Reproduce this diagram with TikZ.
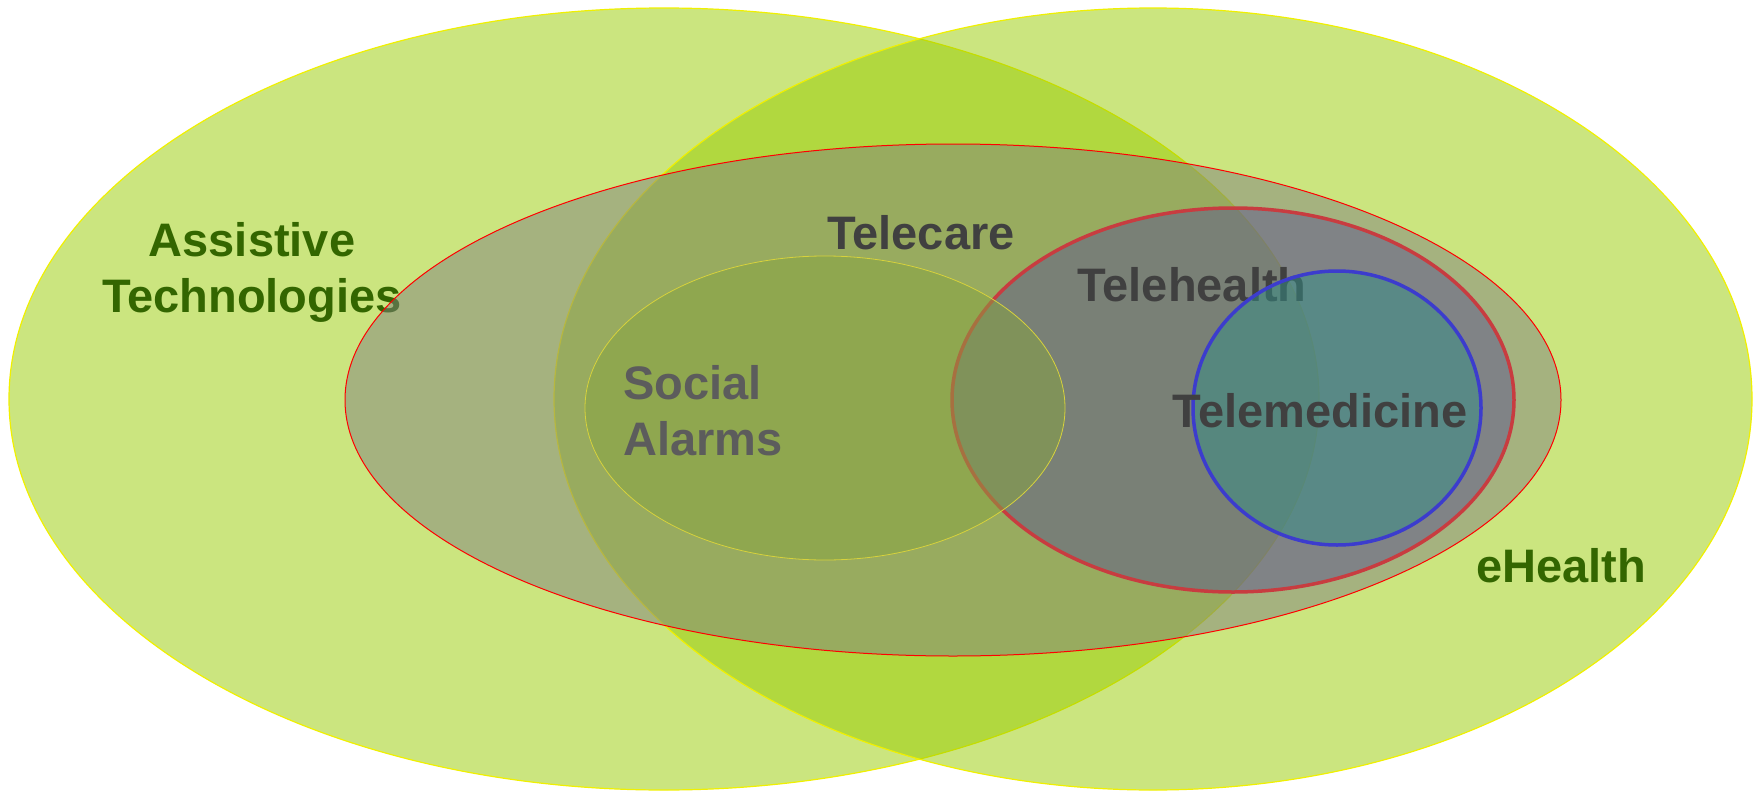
\documentclass[tikz,border=0pt]{standalone}
\usepackage{fontspec}
\setmainfont{Liberation Sans}
\definecolor{bigGreen}{RGB}{153,204,0}
\definecolor{bigEdge}{RGB}{240,240,0}
\definecolor{careGray}{RGB}{128,128,128}
\definecolor{careEdge}{RGB}{255,0,0}
\definecolor{alarmFill}{RGB}{135,164,64}
\definecolor{alarmEdge}{RGB}{215,210,60}
\definecolor{healthFill}{RGB}{92,86,142}
\definecolor{healthEdge}{RGB}{200,60,64}
\definecolor{mediFill}{RGB}{52,143,135}
\definecolor{mediEdge}{RGB}{60,60,205}
\definecolor{darkText}{RGB}{64,64,64}
\definecolor{greenText}{RGB}{51,102,0}
\definecolor{alarmText}{RGB}{92,92,92}
\tikzset{
  bigset/.style={fill=bigGreen, fill opacity=0.5, draw=bigEdge, line width=1.2pt},
  careset/.style={fill=careGray, fill opacity=0.5, draw=careEdge, line width=1pt},
  alarmset/.style={fill=alarmFill, fill opacity=0.5, draw=alarmEdge, line width=0.8pt},
  healthset/.style={fill=healthFill, fill opacity=0.5, draw=healthEdge, line width=3.5pt},
  mediset/.style={fill=mediFill, fill opacity=0.5, draw=mediEdge, line width=3.5pt},
  lbl/.style={font=\fontsize{47}{56}\selectfont\bfseries, inner sep=0pt, anchor=base},
}
\begin{document}
\begin{tikzpicture}[x=1pt,y=-1pt]
\useasboundingbox (0,0) rectangle (1762,795);
\fill[white] (0,0) rectangle (1762,795);
% big sets
\path[bigset] (664,399) ellipse [x radius=655, y radius=391];
\path[bigset] (1153,399) ellipse [x radius=599, y radius=391];
\node[lbl, text=greenText, align=center] (assist) at (252,312) {Assistive\\Technologies};
\node[lbl, text=greenText] (ehealth) at (1561,582) {eHealth};
% telecare
\path[careset] (953,400) ellipse [x radius=608, y radius=256];
\node[lbl, text=darkText] (telecare) at (921,249) {Telecare};
% telehealth
\path[healthset] (1233,400) ellipse [x radius=281, y radius=192];
\node[lbl, text=darkText] (telehealth) at (1192,301) {Telehealth};
% social alarms
\path[alarmset] (825,408) ellipse [x radius=240, y radius=152];
\node[lbl, text=alarmText, align=left, anchor=base west] (alarms) at (623,455) {Social\\Alarms};
% telemedicine
\path[mediset] (1337,408) ellipse [x radius=144, y radius=137];
\node[lbl, text=darkText] (telemed) at (1320,427) {Telemedicine};
\end{tikzpicture}
\end{document}
